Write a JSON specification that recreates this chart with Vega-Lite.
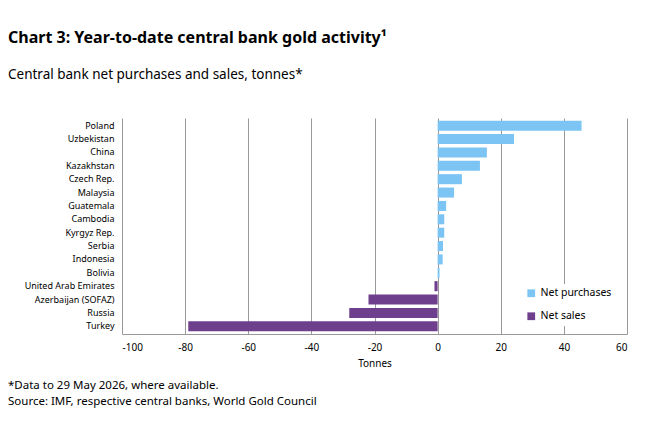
{
  "$schema": "https://vega.github.io/schema/vega-lite/v6.json",
  "background": "white",
  "padding": {"left": 8, "top": 29, "right": 10, "bottom": 5},
  "title": {
    "text": "Chart 3: Year-to-date central bank gold activity¹",
    "subtitle": "Central bank net purchases and sales, tonnes*",
    "anchor": "start",
    "frame": "bounds",
    "font": "Noto Sans",
    "fontSize": 16,
    "fontWeight": "bold",
    "color": "#000000",
    "subtitleFont": "Noto Sans",
    "subtitleFontSize": 13.5,
    "subtitleColor": "#000000",
    "subtitlePadding": 22,
    "offset": 37
  },
  "config": {"view": {"stroke": null}, "font": "Noto Sans"},
  "spacing": 10,
  "vconcat": [
    {
      "width": 505,
      "height": 216,
      "data": {"values": [
        {"country": "Poland", "tonnes": 45.6, "type": "Net purchases"},
        {"country": "Uzbekistan", "tonnes": 24.2, "type": "Net purchases"},
        {"country": "China", "tonnes": 15.6, "type": "Net purchases"},
        {"country": "Kazakhstan", "tonnes": 13.4, "type": "Net purchases"},
        {"country": "Czech Rep.", "tonnes": 7.7, "type": "Net purchases"},
        {"country": "Malaysia", "tonnes": 5.2, "type": "Net purchases"},
        {"country": "Guatemala", "tonnes": 2.7, "type": "Net purchases"},
        {"country": "Cambodia", "tonnes": 2.1, "type": "Net purchases"},
        {"country": "Kyrgyz Rep.", "tonnes": 2.1, "type": "Net purchases"},
        {"country": "Serbia", "tonnes": 1.7, "type": "Net purchases"},
        {"country": "Indonesia", "tonnes": 1.6, "type": "Net purchases"},
        {"country": "Bolivia", "tonnes": 0.6, "type": "Net purchases"},
        {"country": "United Arab Emirates", "tonnes": -1.0, "type": "Net sales"},
        {"country": "Azerbaijan (SOFAZ)", "tonnes": -21.9, "type": "Net sales"},
        {"country": "Russia", "tonnes": -28, "type": "Net sales"},
        {"country": "Turkey", "tonnes": -79, "type": "Net sales"}
      ]},
      "mark": {"type": "bar"},
      "encoding": {
        "y": {
          "field": "country", "type": "nominal", "sort": null, "title": null,
          "scale": {"paddingInner": 0.25, "paddingOuter": 0.2},
          "axis": {"ticks": false, "domain": false, "labelFontSize": 9, "labelColor": "#000", "labelPadding": 8}
        },
        "x": {
          "field": "tonnes", "type": "quantitative", "title": "Tonnes",
          "scale": {"domain": [-100, 60]},
          "axis": {"values": [-100, -80, -60, -40, -20, 0, 20, 40, 60], "ticks": false, "domain": true,
            "labelExpr": "'' + datum.value",
            "domainColor": "#999", "gridColor": "#999", "labelFontSize": 10, "labelColor": "#000", "labelPadding": 8,
            "titleFontSize": 10, "titleFontWeight": "normal", "titleColor": "#000", "titlePadding": 6}
        },
        "color": {
          "field": "type", "type": "nominal", "title": null,
          "scale": {"domain": ["Net purchases", "Net sales"], "range": ["#7CC4F4", "#6E3F8C"]},
          "legend": {"orient": "none", "legendX": 400, "legendY": 166, "symbolType": "square", "symbolSize": 60,
            "labelFontSize": 10.5, "labelColor": "#000", "rowPadding": 12, "fillColor": "white", "padding": 4}
        }
      }
    },
    {
      "width": 505,
      "height": 32,
      "data": {"values": [
        {"line": 1, "text": "*Data to 29 May 2026, where available."},
        {"line": 2, "text": "Source: IMF, respective central banks, World Gold Council"}
      ]},
      "mark": {"type": "text", "align": "left", "fontSize": 11.5, "color": "#000"},
      "encoding": {
        "y": {"field": "line", "type": "ordinal", "axis": null},
        "x": {"value": -114},
        "text": {"field": "text"}
      }
    }
  ]
}
